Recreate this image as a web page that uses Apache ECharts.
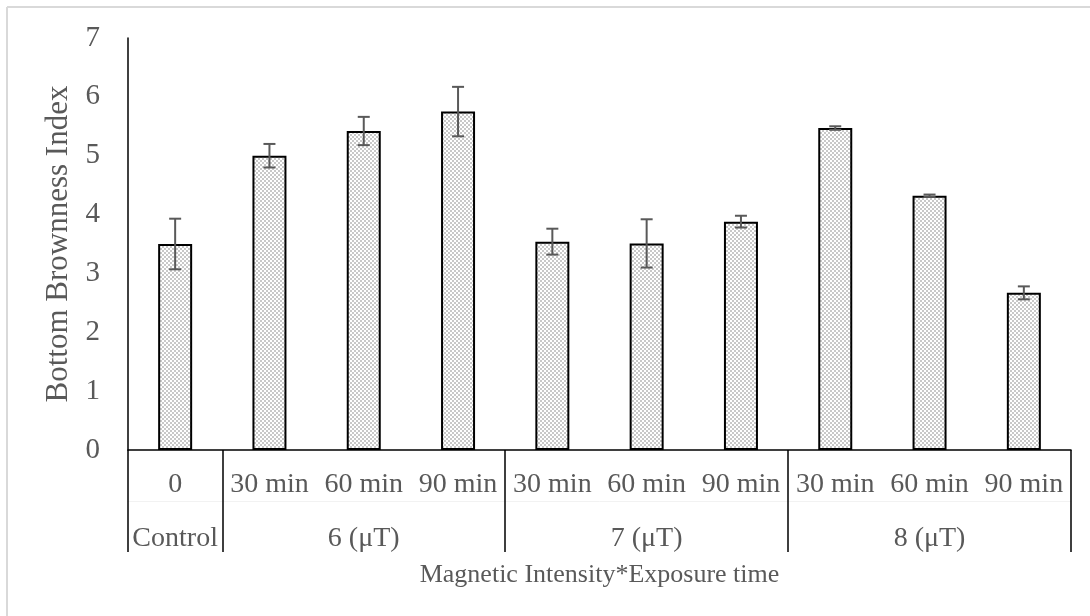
<!DOCTYPE html>
<html>
<head>
<meta charset="utf-8">
<script src="https://cdn.jsdelivr.net/npm/echarts@6/dist/echarts.min.js"></script>
<style>
html,body{margin:0;padding:0;background:#fff;}
#chart{width:1090px;height:616px;}
</style>
</head>
<body>
<div id="chart"></div>
<script>
// ---- data ----
const categories = ['0', '30 min', '60 min', '90 min', '30 min', '60 min', '90 min', '30 min', '60 min', '90 min'];
const groupNames = ['Control', '6 (\u03bcT)', '7 (\u03bcT)', '8 (\u03bcT)'];
const groupSizes = [1, 3, 3, 3];
const values = [3.50, 5.00, 5.42, 5.75, 3.54, 3.51, 3.88, 5.47, 4.32, 2.67];
const errors = [0.43, 0.20, 0.24, 0.42, 0.22, 0.41, 0.10, 0.03, 0.02, 0.11];
const yMin = 0, yMax = 7, yStep = 1;
const xTitle = 'Magnetic Intensity*Exposure time';
const yTitle = 'Bottom Brownness Index';

// ---- derived ----
const groupLabels = categories.map(() => '');
const boundaries = [];
let start = 0;
groupSizes.forEach((n, g) => {
  boundaries.push(start);
  groupLabels[start + Math.floor((n - 1) / 2)] = groupNames[g];
  start += n;
});
const errData = values.map((v, i) => [i, v - errors[i], v + errors[i]]);

// checker pattern fill
const pat = document.createElement('canvas');
pat.width = 4; pat.height = 4;
const pc = pat.getContext('2d');
pc.fillStyle = '#ffffff'; pc.fillRect(0, 0, 4, 4);
pc.fillStyle = '#c8c8c8';
pc.fillRect(0, 0, 2, 2); pc.fillRect(2, 2, 2, 2);

const FONT = '"Liberation Serif", "Times New Roman", serif';
const TXT = '#595959';

const chart = echarts.init(document.getElementById('chart'), null, {renderer: 'canvas'});
chart.setOption({
  animation: false,
  backgroundColor: '#ffffff',
  graphic: [
    {type: 'line', shape: {x1: 7, y1: 7, x2: 1090, y2: 7}, style: {stroke: '#d9d9d9', lineWidth: 2}},
    {type: 'line', shape: {x1: 7, y1: 7, x2: 7, y2: 616}, style: {stroke: '#d9d9d9', lineWidth: 2}}
  ],
  grid: {left: 128, right: 19, top: 38, bottom: 166, containLabel: false},
  xAxis: [
    {
      type: 'category',
      data: categories,
      position: 'bottom',
      axisLine: {show: true, lineStyle: {color: '#000', width: 1.5}},
      axisTick: {
        show: true,
        alignWithLabel: false,
        length: 102,
        interval: function (index) { return boundaries.indexOf(index) >= 0; },
        lineStyle: {color: '#000', width: 1.5}
      },
      axisLabel: {interval: 0, fontSize: 28, fontFamily: FONT, color: TXT, margin: 21},
      name: xTitle,
      nameLocation: 'middle',
      nameGap: 112,
      nameTextStyle: {fontSize: 26, fontFamily: FONT, color: TXT},
      splitLine: {show: false}
    },
    {
      type: 'category',
      data: groupLabels,
      position: 'bottom',
      offset: 51,
      axisLine: {show: true, lineStyle: {color: '#f2f2f2', width: 1}},
      axisTick: {show: false},
      axisLabel: {interval: 0, fontSize: 28, fontFamily: FONT, color: TXT, margin: 24},
      splitLine: {show: false}
    }
  ],
  yAxis: {
    type: 'value',
    min: yMin, max: yMax, interval: yStep,
    axisLine: {show: true, lineStyle: {color: '#000', width: 1.5}},
    axisTick: {show: false},
    splitLine: {show: false},
    axisLabel: {fontSize: 29, fontFamily: FONT, color: TXT, margin: 28},
    name: yTitle,
    nameLocation: 'middle',
    nameRotate: 90,
    nameGap: 52,
    nameTextStyle: {fontSize: 31, fontFamily: FONT, color: TXT}
  },
  series: [
    {
      type: 'bar',
      data: values,
      barWidth: 34,
      itemStyle: {
        color: {image: pat, repeat: 'repeat'},
        borderColor: '#000',
        borderWidth: 2
      }
    },
    {
      type: 'custom',
      data: errData,
      z: 10,
      renderItem: function (params, api) {
        const x = api.value(0);
        const lo = api.coord([x, api.value(1)]);
        const hi = api.coord([x, api.value(2)]);
        const hw = 6;
        const st = {stroke: '#595959', lineWidth: 2};
        return {
          type: 'group',
          children: [
            {type: 'line', shape: {x1: lo[0], y1: lo[1], x2: hi[0], y2: hi[1]}, style: st},
            {type: 'line', shape: {x1: lo[0] - hw, y1: lo[1], x2: lo[0] + hw, y2: lo[1]}, style: st},
            {type: 'line', shape: {x1: hi[0] - hw, y1: hi[1], x2: hi[0] + hw, y2: hi[1]}, style: st}
          ]
        };
      }
    }
  ]
});
</script>
</body>
</html>
